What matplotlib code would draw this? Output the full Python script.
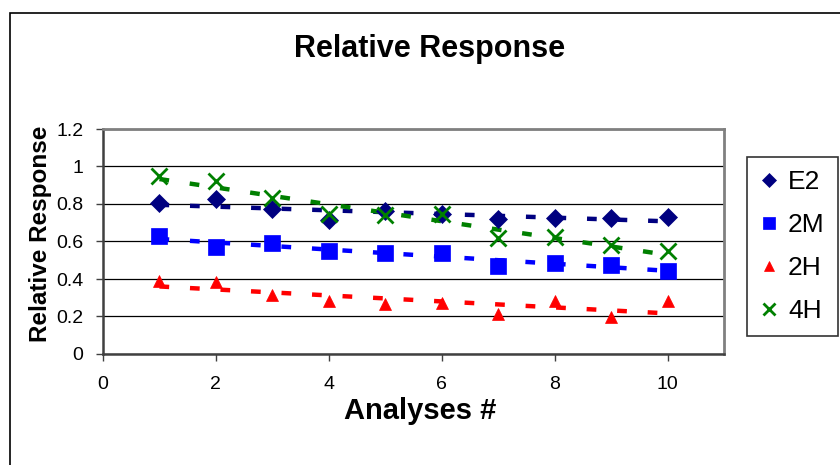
import numpy as np
import matplotlib
matplotlib.use("Agg")
import matplotlib.pyplot as plt
from matplotlib.patches import Rectangle

plt.rcParams['font.family'] = ['Liberation Sans', 'DejaVu Sans']
plt.rcParams['lines.scale_dashes'] = False

analyses = [1, 2, 3, 4, 5, 6, 7, 8, 9, 10]
e2 = [0.805, 0.825, 0.772, 0.713, 0.760, 0.745, 0.718, 0.723, 0.723, 0.732]
m2 = [0.629, 0.572, 0.590, 0.549, 0.537, 0.537, 0.471, 0.484, 0.475, 0.443]
h2 = [0.390, 0.382, 0.315, 0.285, 0.265, 0.272, 0.211, 0.285, 0.198, 0.281]
h4 = [0.949, 0.923, 0.830, 0.748, 0.741, 0.748, 0.617, 0.622, 0.581, 0.549]
names = ['E2', '2M', '2H', '4H']
series = [e2, m2, h2, h4]
colors = ['#000080', '#0000FF', '#FF0000', '#008000']
markers = ['D', 's', '^', 'x']
msizes = [9.5, 11, 8.5, 11]
xticks = [0, 2, 4, 6, 8, 10]
yticks = [0, 0.2, 0.4, 0.6, 0.8, 1.0, 1.2]
ytick_labels = ['0', '0.2', '0.4', '0.6', '0.8', '1', '1.2']

W, H = 840, 465
fig = plt.figure(figsize=(W / 100, H / 100), dpi=100)
fig.patch.set_facecolor('white')
fig.patches.append(Rectangle((10 / W, -0.1), 1.2, 1 - 13 / H + 0.1, transform=fig.transFigure,
                             fill=False, edgecolor='black', linewidth=1.2))

ax = fig.add_axes([103 / W, 1 - 354 / H, (724 - 103) / W, (354 - 129) / H])
x = np.array(analyses, dtype=float)
handles = []
for name, vals, c, m, ms in zip(names, series, colors, markers, msizes):
    v = np.array(vals)
    coef = np.polyfit(x, v, 1)
    xt = np.array([x[0], x[-1]])
    ax.plot(xt, np.polyval(coef, xt), color=c, lw=3.2, dashes=(7, 15), zorder=2)
    mew = 2 if m == 'x' else 0.5
    h, = ax.plot(x, v, linestyle='none', marker=m, color=c, markersize=ms,
                 markeredgewidth=mew, markeredgecolor=c, zorder=3, label=name)
    handles.append(h)

ax.set_xlim(0, 11)
ax.set_ylim(0, 1.2)
ax.set_xticks(xticks)
ax.set_yticks(yticks)
ax.set_yticklabels(ytick_labels)
ax.tick_params(axis='both', labelsize=14, length=5, width=1, color='#404040')
ax.tick_params(axis='x', pad=11)
ax.tick_params(axis='y', pad=9)
ax.grid(axis='y', color='black', lw=0.9)
ax.set_axisbelow(True)
for s in ['top', 'right']:
    ax.spines[s].set_color('#808080')
    ax.spines[s].set_linewidth(2)
for s in ['left', 'bottom']:
    ax.spines[s].set_color('#404040')
    ax.spines[s].set_linewidth(1.8)

fig.text(430 / W, 1 - 49 / H, 'Relative Response', ha='center', va='center',
         fontsize=22, fontweight='bold')
fig.text(420 / W, 1 - 411 / H, 'Analyses #', ha='center', va='center',
         fontsize=21, fontweight='bold')
fig.text(41 / W, 1 - 234 / H, 'Relative Response', ha='center', va='center',
         rotation=90, fontsize=17.5, fontweight='bold')

leg = fig.legend(handles=handles, loc='upper left', bbox_to_anchor=(747 / W, 1 - 157 / H),
                 frameon=True, fancybox=False, edgecolor='black', fontsize=19,
                 handlelength=0.7, handletextpad=0.35, borderpad=0.5, labelspacing=0.72,
                 markerscale=0.8, borderaxespad=0)
leg.get_frame().set_linewidth(1.2)

fig.savefig('out.png', dpi=100)
